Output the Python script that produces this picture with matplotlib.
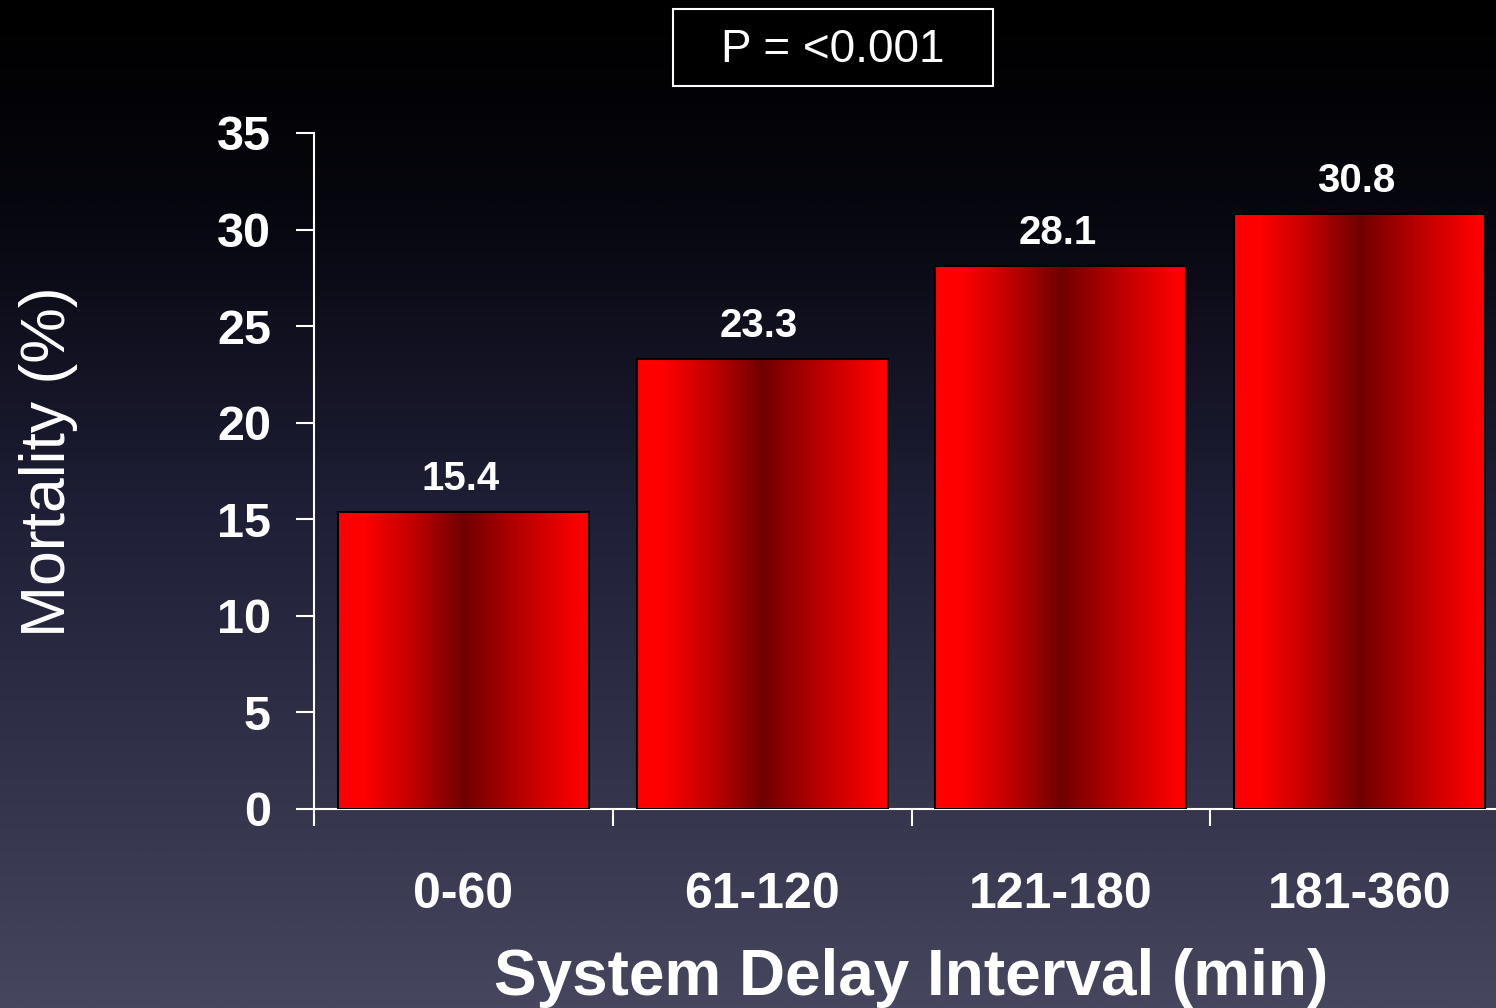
import numpy as np
import matplotlib
matplotlib.use("Agg")
import matplotlib.pyplot as plt
from matplotlib.colors import LinearSegmentedColormap
from matplotlib.patches import Rectangle

categories = ["0-60", "61-120", "121-180", "181-360"]
mortality = [15.4, 23.3, 28.1, 30.8]
value_labels = ["15.4", "23.3", "28.1", "30.8"]
yticks = [0, 5, 10, 15, 20, 25, 30, 35]

plt.rcParams['font.family'] = ['Liberation Sans', 'DejaVu Sans']

W, H = 1496, 1008
fig = plt.figure(figsize=(W / 100, H / 100), dpi=100)

# background gradient
bg = fig.add_axes([0, 0, 1, 1], zorder=-10)
bg_cmap = LinearSegmentedColormap.from_list(
    "bg", [(0.0, "#000000"), (0.2, "#06060e"), (0.5, "#1e1e36"),
           (0.8, "#35354e"), (1.0, "#46465f")])
grad = np.linspace(0, 1, 512).reshape(-1, 1)
bg.imshow(grad, aspect="auto", cmap=bg_cmap, extent=[0, 1, 0, 1], origin="upper")
bg.set_axis_off()

left = 314 / W
right = 1509 / W
bottom = (H - 809) / H
top = (H - 133) / H
ax = fig.add_axes([left, bottom, right - left, top - bottom])
ax.set_facecolor("none")

bar_cmap = LinearSegmentedColormap.from_list(
    "bar", [(0.0, "#ff0000"), (0.1, "#ff0000"), (0.3, "#c00000"),
            (0.5, "#700000"), (0.7, "#b00000"),
            (0.97, "#ff0000"), (1.0, "#ff0000")])
bar_w = 0.84
hgrad = np.linspace(0, 1, 256).reshape(1, -1)
bars = ax.bar(range(len(categories)), mortality, width=bar_w,
              facecolor="none", edgecolor="black", linewidth=1.5, zorder=3)
for i, (b, v) in enumerate(zip(bars, mortality)):
    x0 = b.get_x()
    im = ax.imshow(hgrad, aspect="auto", cmap=bar_cmap,
                   extent=[x0, x0 + bar_w, 0, v], zorder=2)
    im.set_clip_path(b)
    ax.annotate(value_labels[i], (i - 0.01, v), xytext=(0, 10),
                textcoords="offset points", ha="center", va="bottom",
                color="white", fontsize=29, fontweight="bold")
ax.set_xlim(-0.5, len(categories) - 0.5)
ax.set_ylim(0, 35)

for s in ["top", "right"]:
    ax.spines[s].set_visible(False)
for s in ["left", "bottom"]:
    ax.spines[s].set_color("white")
    ax.spines[s].set_linewidth(1.5)

ax.set_yticks(yticks)
ax.set_yticklabels([str(t) for t in yticks], fontsize=35, fontweight="bold",
                   color="white")
ax.tick_params(axis="y", direction="out", length=13, width=1.5, color="white",
               pad=18)

ax.set_xticks(np.arange(-0.5, len(categories) + 0.5, 1.0))
ax.set_xticklabels([])
ax.tick_params(axis="x", which="major", direction="out", length=12, width=1.5,
               color="white")
ax.set_xticks(range(len(categories)), minor=True)
ax.set_xticklabels(categories, minor=True, fontsize=36, fontweight="bold",
                   color="white")
ax.tick_params(axis="x", which="minor", length=0, pad=45)

fig.text(48 / W, 1 - 462 / H, "Mortality (%)", rotation=90, ha="center",
         va="center", fontsize=45, color="white")
ax.set_xlabel("System Delay Interval (min)", fontsize=46, fontweight="bold",
              color="white", labelpad=22)

fig.text(833 / W, 1 - 50 / H, "P = <0.001", ha="center", va="center",
         fontsize=33, color="white")
fig.patches.append(Rectangle((673 / W, 1 - 86 / H), 320 / W, 77 / H,
                             transform=fig.transFigure, facecolor="black",
                             edgecolor="white", linewidth=1.5, zorder=-1))

fig.savefig("out.png", dpi=100)
